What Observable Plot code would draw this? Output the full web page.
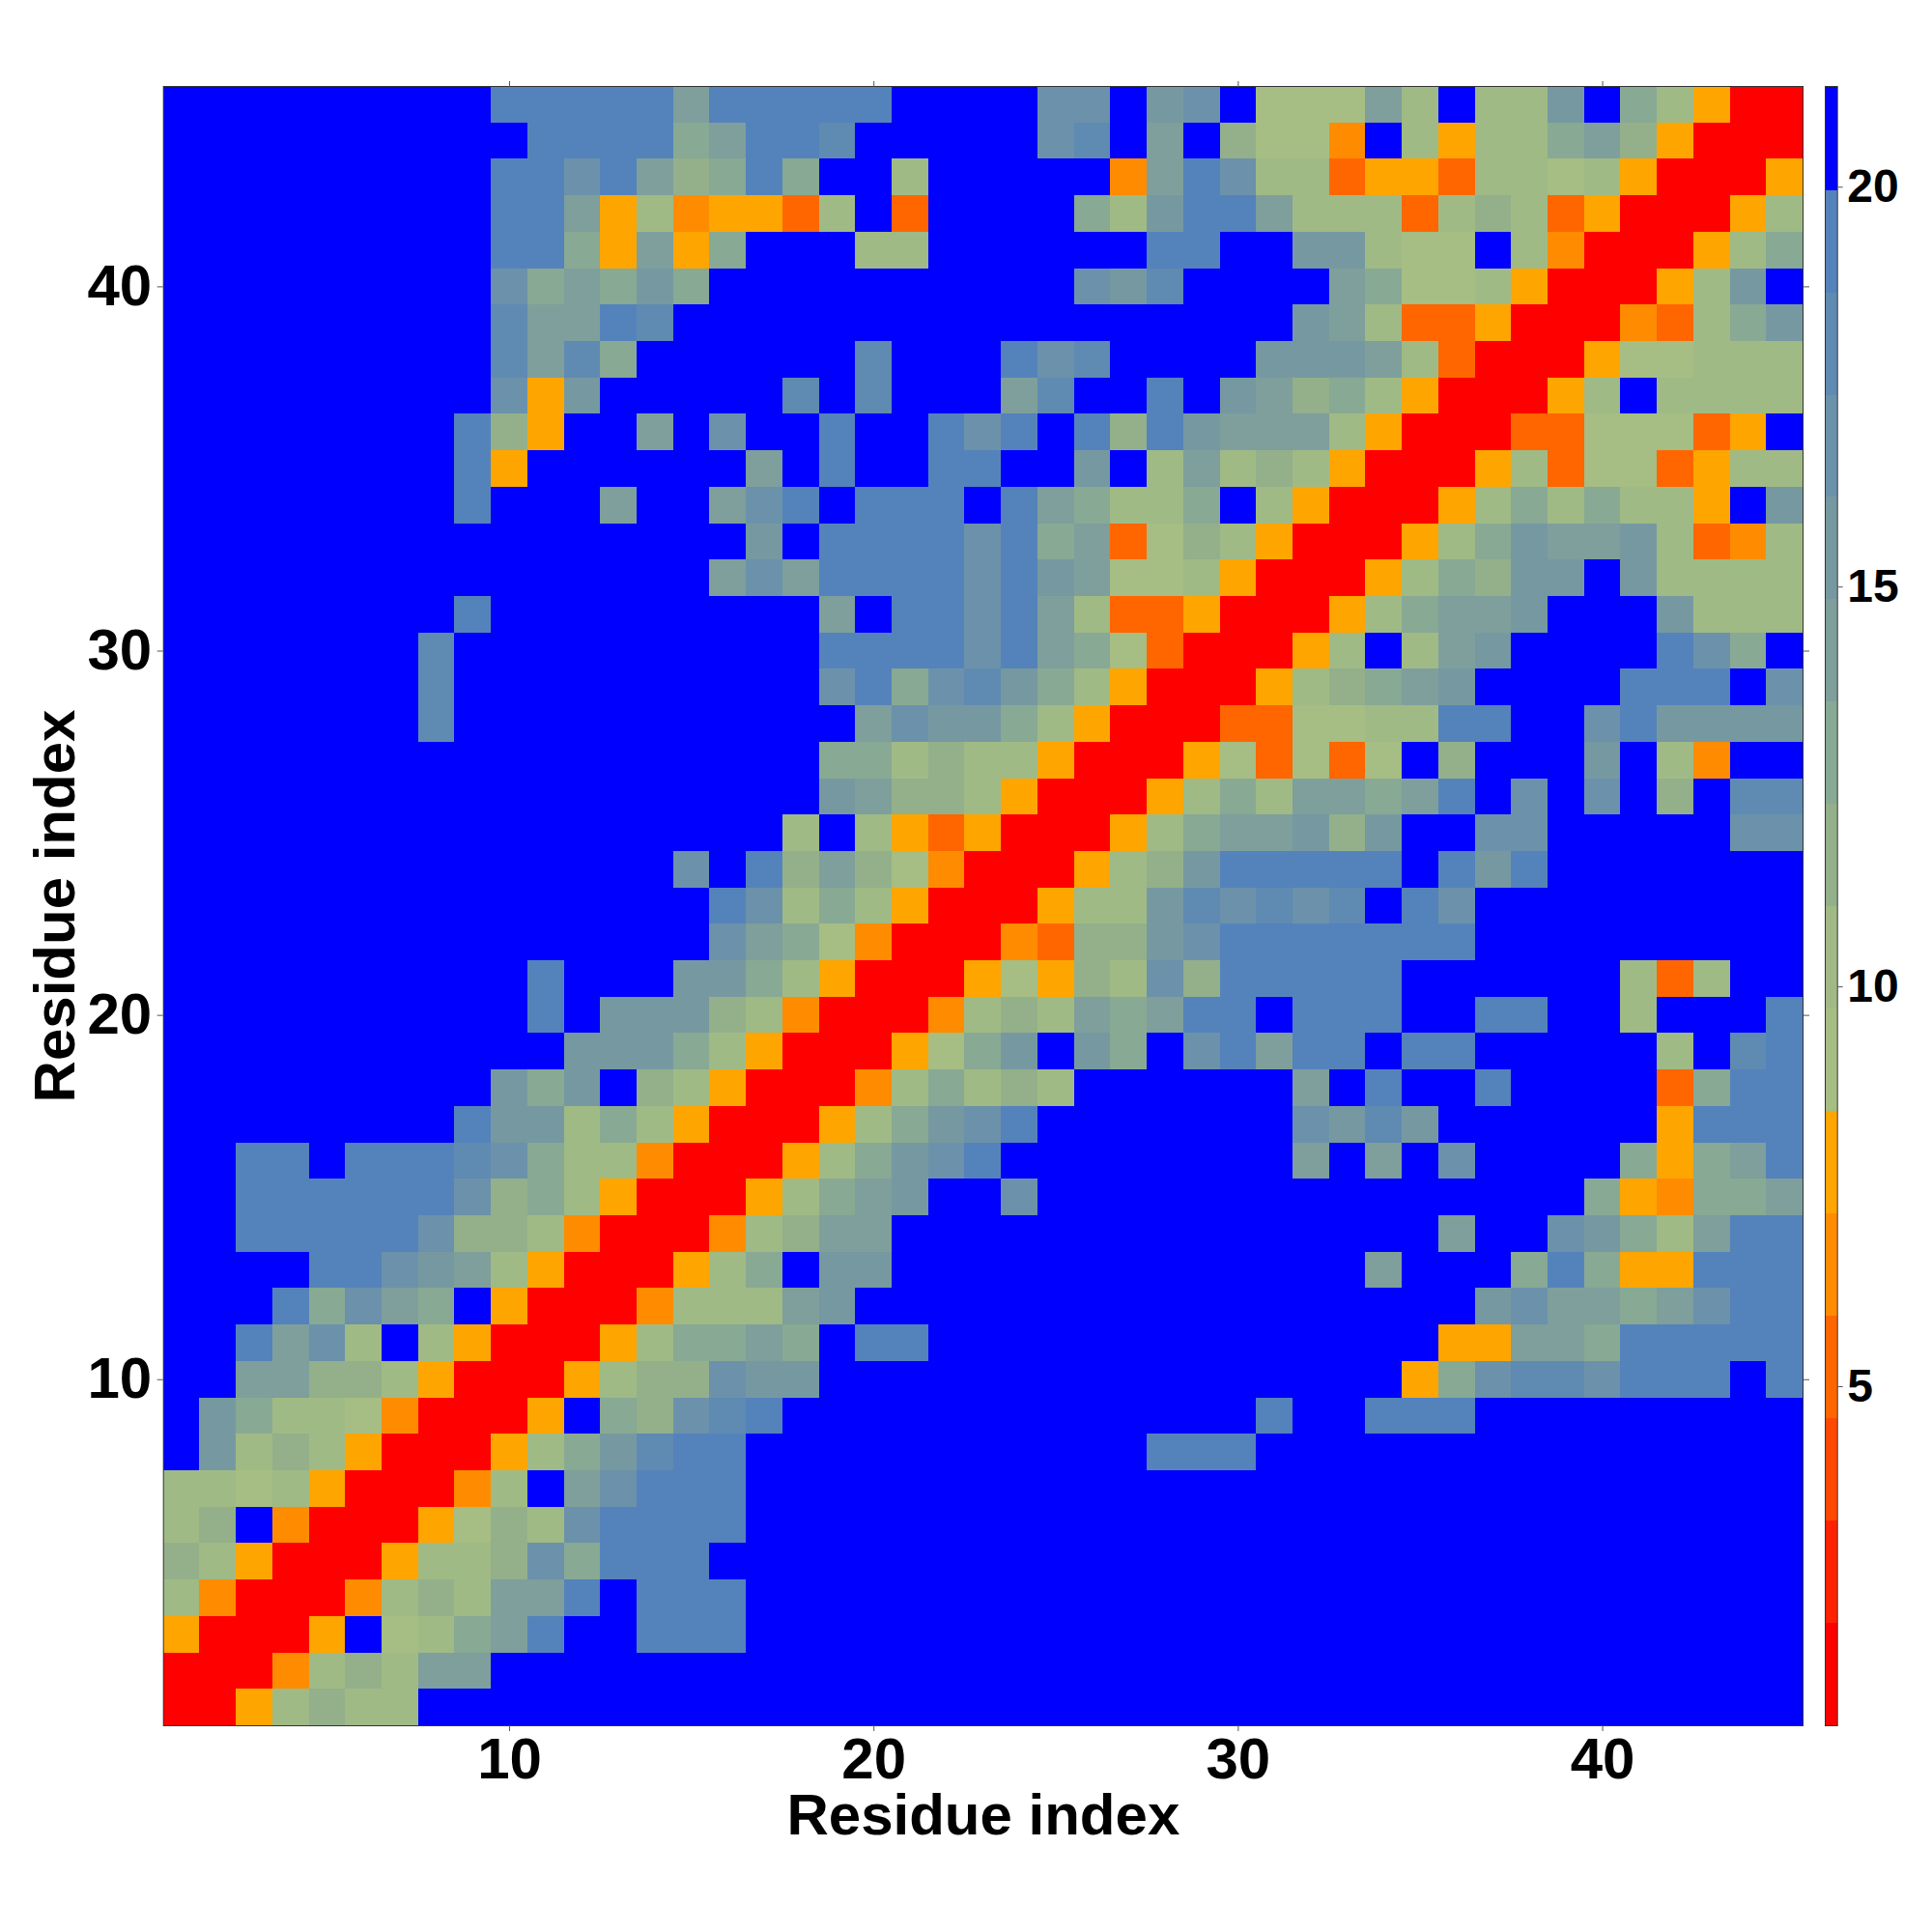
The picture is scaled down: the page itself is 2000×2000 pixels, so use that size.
<!DOCTYPE html>
<html>
<head>
<meta charset="utf-8">
<script src="https://cdn.jsdelivr.net/npm/d3@7"></script>
<script src="https://cdn.jsdelivr.net/npm/@observablehq/plot@0.6"></script>
<style>
html,body{margin:0;padding:0;background:#fff;width:2000px;height:2000px;overflow:hidden}
#chart{position:absolute;left:0;top:0}
#bar{position:absolute;left:1849px;top:0}
svg{background:none !important}
</style>
</head>
<body>
<div id="chart"></div>
<div id="bar"></div>
<script>
// Colour-bar bands, bottom to top
const bandColors = ["#ff0000","#ff2200","#ff4800","#ff6600","#ff8c00","#ffa500",
  "#a6bd83","#a0ba85","#93b08b","#88a993","#7e9f9b","#7699a1","#6b92aa","#5f8ab2","#5483bb","#0000ff"];
const bandEdges = [2.04,3.32,4.60,5.88,7.16,8.44,9.72,11.0,12.28,13.56,14.84,16.12,17.40,18.68,19.96];
const barExtent = [0.76,21.26];
const barTicks = [5,10,15,20];
const axisTicks = [10,20,30,40];
const residues = d3.range(1,46);

// Contact-map rows, top (45) to bottom (1). One hex digit per cell = colour band; "f*9" repeats.
const levelRows = [
"f*9 eeeee a eeeee ffff cc f b c f 666 a 7 f 77 b f 9 7 5 00",
"f*10 eeee 9 a ee d ffff f c d f a f 8 66 4 f 7 5 77 9 a 8 5 000",
"f*9 ee c e a 8 9 e 9 ff 7 ff fff 4 a e c 77 3 55 3 77 6 7 5 000 5",
"f*9 ee a 5 7 4 55 3 7 f 3 ff ff 9 7 b ee a 777 3 7 8 7 3 5 000 5 7",
"f*9 ee 9 5 a 5 9 fff 77 ff ffff ee ff bb 7 66 f 7 4 000 5 7 9",
"f*9 c 9 a 9 b 9 f*8 ff c b d ffff a 9 66 7 5 000 5 7 b f",
"f*9 d aa e d f*9 f*8 b a 7 33 5 000 4 3 7 9 b",
"f*9 d a d 9 f*6 d fff e c d ffff bbb a 7 3 000 5 66 777",
"f*9 c 5 b fffff d f d fff a d ff e f b a 8 9 7 5 000 5 7 f 7777",
"f*8 e 8 5 ff a f c ff e ff e c e f e 8 e b aaa 7 5 000 33 666 3 5 f",
"f*8 e 5 f*6 a f e ff ee ff b f 7 a 7 8 7 5 000 5 7 3 66 3 5 77",
"f*8 e fff a ff a c e f eee f e a 9 77 9 f 7 5 000 5 7 9 7 9 77 5 f b",
"f*16 b f eeee c e 9 a 3 6 8 7 5 000 5 7 9 b aa b 7 3 4 7",
"f*15 a c a eeee c e b a 66 7 5 000 5 7 9 8 bb f b 7777",
"f*8 e f*9 a f ee c e a 7 33 5 000 5 7 9 aa b fff b 777",
"f*7 d f*10 eeee c e a 9 6 3 000 5 7 f 7 a b ffff e c 9 f",
"f*7 d f*10 c e 9 c d b 9 7 5 000 5 7 8 9 a b ffff eee f c",
"f*7 d f*11 a c bb 9 7 5 000 33 66 77 ee ff c e b bb b",
"f*18 99 7 8 77 5 000 5 6 3 6 3 6 f 8 fff b f 7 4 ff",
"f*18 b a 88 7 5 000 5 7 9 7 aa 9 a e f c f c f 8 f dd",
"f*17 7 f 7 5 3 5 000 5 7 9 aa b 8 b ff cc fffff cc",
"f*14 c f e 8 a 8 6 4 000 5 7 8 b eeeee f e b e fffffff",
"f*15 e c 7 9 7 5 000 5 77 b d c d c d f e c f*9",
"f*15 c a 9 6 4 000 4 3 88 b c eeeeeee f*9",
"f*10 e fff bb 9 7 5 000 5 6 5 8 7 c 8 eeeee f*6 7 3 7 ff",
"f*10 e f bbb 8 7 4 000 4 7 8 7 a 9 a ee f eee ff ee ff 7 fff e",
"f*11 bbb 9 7 5 000 5 6 9 b f b 9 f c e a ee f ee fffff 7 f d e",
"f*9 b 9 b f 8 7 5 000 4 7 9 7 8 7 ffffff a f e ff e ffff 3 9 ee",
"f*8 e bb 7 9 7 5 000 5 7 9 b c e f*7 c b d b f*6 5 eee",
"ff ee f eee d c 9 77 4 000 5 7 9 b c e f*8 a f a f c ffff 9 5 9a e",
"ff eeeeee c 8 9 7 5 000 5 7 9 a b ff c f*15 9 5 4 99 a",
"ff eeeee c 88 7 4 000 4 7 8 aa f*15 a ff c b 9 7 a ee",
"ffff ee c b a 7 5 000 5 7 9 f bb f*13 a fff 9 e 9 55 eee",
"fff e 9 c a 9 f 5 000 4 777 a b f*17 b c aa 9 a c ee",
"ff e a c 7 f 7 5 000 5 7 99 a 9 f ee f*14 55 aa 9 eeeee",
"ff aa 88 7 5 000 5 7 88 c bb f*16 5 9 c dd c eee f e",
"f b 9 77 6 4 000 5 f 9 8 c d e f*13 e ff eee f*9",
"f b 7 8 7 5 000 5 7 9 b d ee f*11 eee f*15",
"77 6 7 5 000 4 7 f a c eee f*29",
"7 8 f 4 000 5 6 8 7 c eeee f*29",
"8 7 5 000 5 77 8 c 9 eee f*30",
"7 4 000 4 7 8 7 aa e f eee f*29",
"5 000 5 f 6 7 9 a e ff eee f*29",
"000 4 7 8 7 aa f*36",
"00 5 7 8 77 f*38"
];

// one representative distance per band
const allEdges = [barExtent[0], ...bandEdges, barExtent[1]];
const expand = s => s.split(" ").map(t => t.includes("*") ? t[0].repeat(+t.slice(2)) : t).join("");
const cells = [];
levelRows.forEach((row, r) => {
  const chars = expand(row);
  if (chars.length !== 45) console.error("row", 45 - r, chars.length);
  [...chars].forEach((c, i) => {
    const k = parseInt(c, 16);
    cells.push({x: residues[i], y: 45 - r, value: (allEdges[k] + allEdges[k + 1]) / 2});
  });
});
const bands = bandColors.map((c, k) => ({lo: allEdges[k], hi: allEdges[k + 1], value: (allEdges[k] + allEdges[k + 1]) / 2}));

const font = "'Liberation Sans', Arial, sans-serif";
const blank = () => "";
const tickStroke = "#555";

const chart = Plot.plot({
  width: 2000, height: 2000,
  marginLeft: 168.7, marginRight: 134, marginTop: 89, marginBottom: 214,
  style: {fontFamily: font, fontWeight: "bold", color: "#000", background: "transparent"},
  x: {type: "band", domain: residues, padding: 0, round: false},
  y: {type: "band", domain: residues.slice().reverse(), padding: 0, round: false},
  color: {type: "threshold", domain: bandEdges, range: bandColors},
  marks: [
    Plot.cell(cells, {x: "x", y: "y", fill: "value", shapeRendering: "crispEdges"}),
    Plot.frame({stroke: "#333", strokeWidth: 1}),
    Plot.axisX({anchor: "bottom", ticks: axisTicks, tickSize: 6, tickPadding: 6, fontSize: 60, stroke: tickStroke, fill: "#000",
      label: "Residue index", labelAnchor: "center", labelOffset: 112}),
    Plot.axisX({anchor: "top", ticks: axisTicks, tickSize: 6, tickFormat: blank, label: null, stroke: tickStroke}),
    Plot.axisY({anchor: "left", ticks: axisTicks, tickSize: 6, tickPadding: 6, fontSize: 60, stroke: tickStroke, fill: "#000",
      label: "Residue index", labelAnchor: "center", labelOffset: 135}),
    Plot.axisY({anchor: "right", ticks: axisTicks, tickSize: 6, tickFormat: blank, label: null, stroke: tickStroke})
  ]
});
document.getElementById("chart").appendChild(chart);

const bar = Plot.plot({
  width: 151, height: 2000,
  marginLeft: 40, marginRight: 98.3, marginTop: 89, marginBottom: 214,
  style: {fontFamily: font, fontWeight: "bold", color: "#000", background: "transparent"},
  x: {axis: null, domain: [0, 1]},
  y: {domain: barExtent, axis: null},
  color: {type: "threshold", domain: bandEdges, range: bandColors},
  marks: [
    Plot.rectY(bands, {x1: 0, x2: 1, y1: "lo", y2: "hi", fill: "value", shapeRendering: "crispEdges"}),
    Plot.frame({stroke: "#333", strokeWidth: 1}),
    Plot.axisY({anchor: "right", ticks: barTicks, tickSize: 5, tickPadding: 5, fontSize: 48, stroke: tickStroke, fill: "#000", label: null})
  ]
});
document.getElementById("bar").appendChild(bar);
</script>
</body>
</html>
